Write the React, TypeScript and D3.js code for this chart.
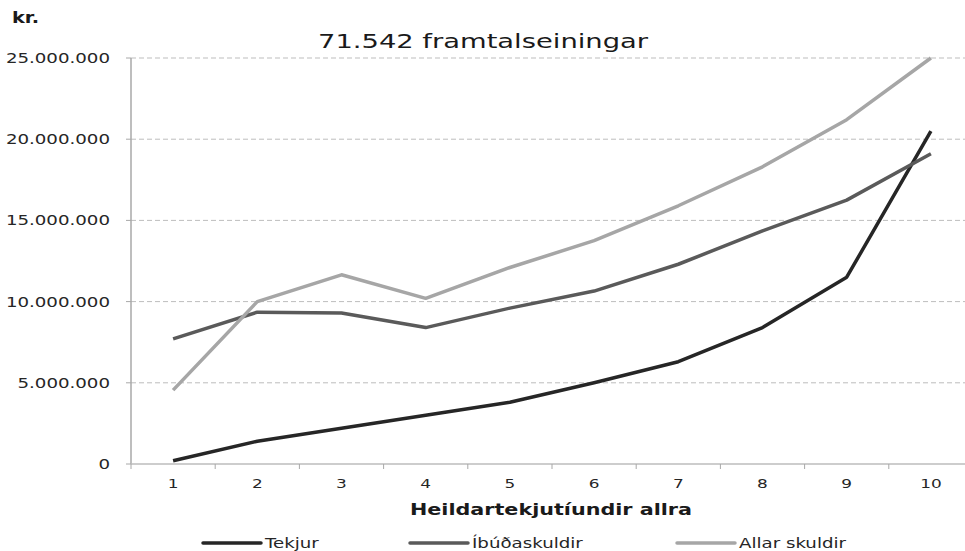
import React from 'react';
import * as d3 from 'd3';

const categories = ['1', '2', '3', '4', '5', '6', '7', '8', '9', '10'];
const tekjur = [0.2, 1.4, 2.2, 3.0, 3.8, 5.0, 6.3, 8.4, 11.5, 20.5].map(v => v * 1e6);
const ibudaskuldir = [7.7, 9.35, 9.3, 8.4, 9.6, 10.65, 12.3, 14.35, 16.25, 19.1].map(v => v * 1e6);
const allarSkuldir = [4.55, 10.0, 11.65, 10.2, 12.1, 13.75, 15.9, 18.3, 21.2, 25.0].map(v => v * 1e6);
const yTicks = [0, 5e6, 10e6, 15e6, 20e6, 25e6];

const seriesNames = ['Tekjur', 'Íbúðaskuldir', 'Allar skuldir'];
const seriesColors = ['#262626', '#5a5a5a', '#a6a6a6'];
const seriesValues = [tekjur, ibudaskuldir, allarSkuldir];

const width = 965;
const height = 551;
const font = '"DejaVu Sans", Verdana, sans-serif';
const stretch = 1.3;

const fmt = (v: number) =>
  v === 0 ? '0' : d3.format(',')(v).replace(/,/g, '.');

export default function App() {
  const x = d3.scaleBand().domain(categories).range([131, 973]);
  const y = d3.scaleLinear().domain([0, 25e6]).range([464, 58]);
  const line = d3
    .line<number>()
    .x((d, i) => x(categories[i])! + x.bandwidth() / 2)
    .y(d => y(d));

  const boundaries = categories.map(c => x(c)!);

  const legendX = [203, 410, 677];

  return (
    <svg
      width={width}
      height={height}
      style={{ position: 'absolute', left: 0, top: 0, background: '#fff' }}
      fontFamily={font}
    >
      {/* gridlines */}
      {yTicks.slice(1).map(t => (
        <line
          key={t}
          x1={131}
          x2={width}
          y1={y(t)}
          y2={y(t)}
          stroke="#bdbdbd"
          strokeDasharray="5,3"
        />
      ))}

      {/* axes */}
      <line x1={131} x2={131} y1={58} y2={464} stroke="#a8a8a8" strokeWidth={1.5} />
      <line x1={131} x2={width} y1={464} y2={464} stroke="#bcbcbc" strokeWidth={1.5} />
      {yTicks.map(t => (
        <line key={t} x1={126} x2={131} y1={y(t)} y2={y(t)} stroke="#a8a8a8" />
      ))}
      {boundaries.map(b => (
        <line key={b} x1={b} x2={b} y1={464} y2={469} stroke="#a8a8a8" />
      ))}

      {/* y labels */}
      {yTicks.map(t => (
        <text
          key={t}
          transform={`translate(110,${y(t) + 5}) scale(${stretch},1)`}
          textAnchor="end"
          fontSize={14}
          fill="#262626"
        >
          {fmt(t)}
        </text>
      ))}

      {/* x labels */}
      {categories.map(c => (
        <text
          key={c}
          transform={`translate(${x(c)! + x.bandwidth() / 2},488) scale(${stretch},1)`}
          textAnchor="middle"
          fontSize={13}
          fill="#262626"
        >
          {c}
        </text>
      ))}

      {/* lines */}
      {seriesValues.map((vals, i) => (
        <path
          key={seriesNames[i]}
          d={line(vals)!}
          fill="none"
          stroke={seriesColors[i]}
          strokeWidth={3.5}
          strokeLinejoin="round"
        />
      ))}

      {/* titles */}
      <text x={12} y={23} fontSize={16} fontWeight="bold" fill="#1a1a1a" textLength={27} lengthAdjust="spacingAndGlyphs">
        kr.
      </text>
      <text x={318} y={48} fontSize={20} fill="#1a1a1a" textLength={330} lengthAdjust="spacingAndGlyphs">
        71.542 framtalseiningar
      </text>
      <text x={410} y={515} fontSize={16} fontWeight="bold" fill="#1a1a1a" textLength={282} lengthAdjust="spacingAndGlyphs">
        Heildartekjutíundir allra
      </text>

      {/* legend */}
      {seriesNames.map((name, i) => (
        <g key={name}>
          <line
            x1={legendX[i]}
            x2={legendX[i] + 58}
            y1={543}
            y2={543}
            stroke={seriesColors[i]}
            strokeWidth={3.5}
            strokeLinecap="round"
          />
          <text
            transform={`translate(${legendX[i] + 62},548) scale(${stretch},1)`}
            fontSize={14}
            fill="#262626"
          >
            {name}
          </text>
        </g>
      ))}
    </svg>
  );
}
